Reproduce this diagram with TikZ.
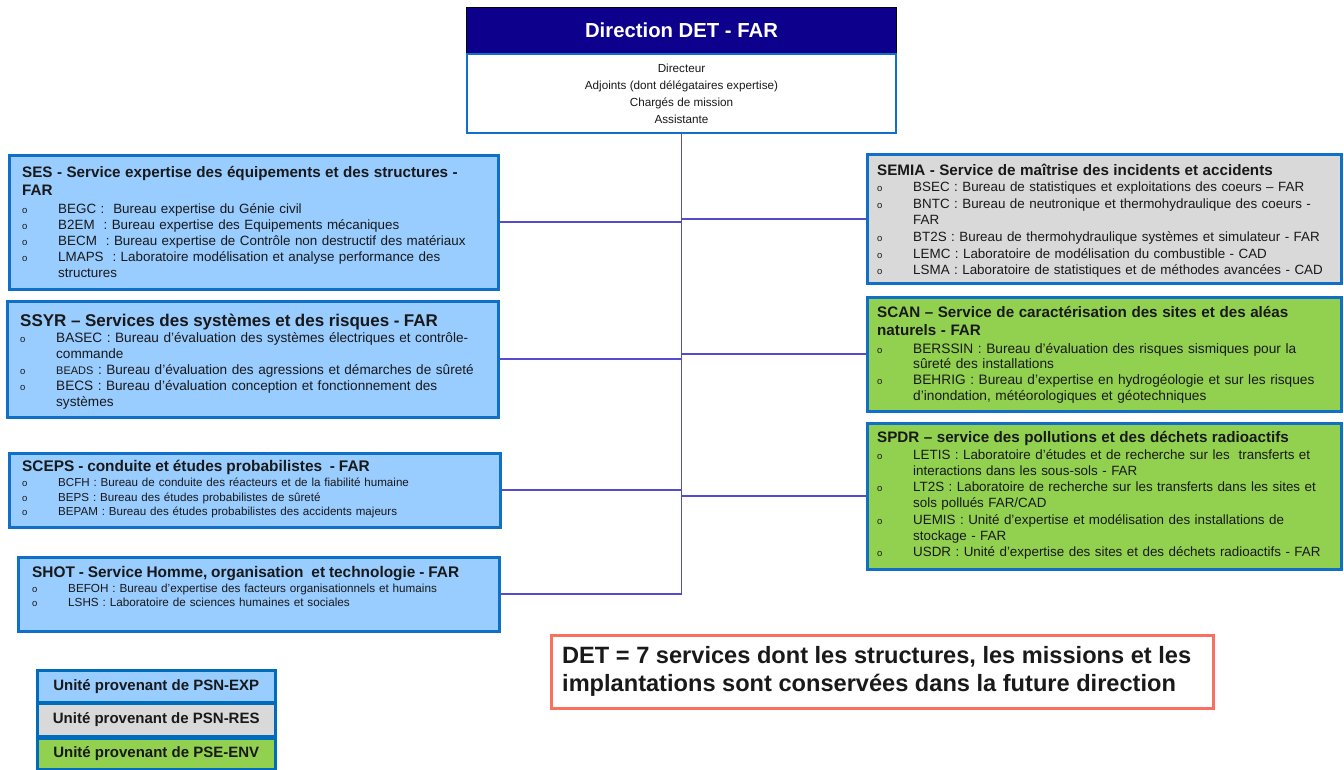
\documentclass[tikz,border=0pt]{standalone}
\usepackage{fontspec}
\setmainfont{Liberation Sans}
\usetikzlibrary{calc}

\definecolor{hdr}{RGB}{12,0,140}
\definecolor{bfill}{RGB}{153,204,255}
\definecolor{gfill}{RGB}{217,217,217}
\definecolor{vfill}{RGB}{146,208,80}
\definecolor{bord}{RGB}{16,112,200}
\definecolor{legbord}{RGB}{0,108,190}
\definecolor{connc}{RGB}{85,75,205}
\definecolor{salmon}{RGB}{250,112,96}
\definecolor{txtc}{RGB}{25,25,25}

\newcommand\bul[1]{\par\noindent\makebox[36pt][l]{\fontsize{9.5}{9.5}\selectfont o}#1}
\newcommand\cont[1]{\par\noindent\hspace*{36pt}#1}

\tikzset{
  svcbox/.style={draw=bord, line width=2.5pt, anchor=north west, inner sep=0pt},
  svctext/.style={anchor=base west, inner sep=0pt, text=txtc, text width=500pt},
  connline/.style={draw=connc, line width=1.8pt},
  legbox/.style={draw=legbord, line width=2.5pt, minimum width=238pt, inner sep=0pt,
    font=\fontsize{15}{17}\selectfont\bfseries, text=txtc},
}

\begin{document}
\begin{tikzpicture}[x=1pt,y=-1pt]
\useasboundingbox (0,0) rectangle (1344,769);

% Direction
\node[fill=hdr, draw=black, line width=1pt, minimum width=430pt, minimum height=46pt,
  anchor=north west, inner sep=0pt, text=white, font=\fontsize{20.3}{24}\selectfont\bfseries]
  (dirh) at (466,7) {Direction DET - FAR};
\node[draw=bord, line width=2pt, fill=white, minimum width=429pt, minimum height=79pt,
  anchor=north west, inner sep=0pt, align=center, text=txtc, font=\fontsize{11.7}{17}\selectfont]
  (dirb) at (466,53) {Directeur\\Adjoints (dont délégataires expertise)\\Chargés de mission\\Assistante};

% Left boxes
\node[svcbox, fill=bfill, minimum width=489pt, minimum height=134pt] (ses) at (8,154) {};
\node[svctext, font=\fontsize{13.4}{16}\selectfont] (sest) at (22,177) {%
{\fontsize{15.2}{18}\selectfont\bfseries SES - Service expertise des équipements et des structures -\newline FAR\par}\vspace{2pt}%
\bul{BEGC :~~Bureau expertise du Génie civil}%
\bul{B2EM~ : Bureau expertise des Equipements mécaniques}%
\bul{BECM~ : Bureau expertise de Contrôle non destructif des matériaux}%
\bul{LMAPS~ : Laboratoire modélisation et analyse performance des}%
\cont{structures}};

\node[svcbox, fill=bfill, minimum width=491pt, minimum height=116pt] (ssyr) at (6,300) {};
\node[svctext, font=\fontsize{13.6}{16}\selectfont] (ssyrt) at (20,326) {%
{\fontsize{17}{20}\selectfont\bfseries SSYR – Services des systèmes et des risques - FAR\par}%
\bul{BASEC : Bureau d’évaluation des systèmes électriques et contrôle-}%
\cont{commande}%
\bul{{\fontsize{11}{11}\selectfont BEADS} : Bureau d’évaluation des agressions et démarches de sûreté}%
\bul{BECS : Bureau d’évaluation conception et fonctionnement des}%
\cont{systèmes}};

\node[svcbox, fill=bfill, minimum width=491pt, minimum height=74pt] (sceps) at (8,452) {};
\node[svctext, font=\fontsize{11.6}{14.5}\selectfont] (scepst) at (22,471) {%
{\fontsize{15.4}{18}\selectfont\bfseries SCEPS - conduite et études probabilistes~~- FAR\par}\vspace{1pt}%
\bul{BCFH : Bureau de conduite des réacteurs et de la fiabilité humaine}%
\bul{BEPS : Bureau des études probabilistes de sûreté}%
\bul{BEPAM : Bureau des études probabilistes des accidents majeurs}};

\node[svcbox, fill=bfill, minimum width=481pt, minimum height=74pt] (shot) at (17,556) {};
\node[svctext, font=\fontsize{11.7}{14}\selectfont] (shott) at (32,577) {%
{\fontsize{15.4}{18}\selectfont\bfseries SHOT - Service Homme, organisation~~et technologie - FAR\par}\vspace{1.5pt}%
\bul{BEFOH : Bureau d’expertise des facteurs organisationnels et humains}%
\bul{LSHS : Laboratoire de sciences humaines et sociales}};

% Right boxes
\node[svcbox, fill=gfill, minimum width=474pt, minimum height=129pt] (semia) at (866,153) {};
\node[svctext, font=\fontsize{13.4}{16.6}\selectfont] (semiat) at (877,175) {%
{\fontsize{15.2}{18}\selectfont\bfseries SEMIA - Service de maîtrise des incidents et accidents\par}%
\bul{BSEC : Bureau de statistiques et exploitations des coeurs – FAR}%
\bul{BNTC : Bureau de neutronique et thermohydraulique des coeurs -}%
\cont{FAR}%
\bul{BT2S : Bureau de thermohydraulique systèmes et simulateur - FAR}%
\bul{LEMC : Laboratoire de modélisation du combustible - CAD}%
\bul{LSMA : Laboratoire de statistiques et de méthodes avancées - CAD}};

\node[svcbox, fill=vfill, minimum width=474pt, minimum height=114pt] (scan) at (866,296) {};
\node[svctext, font=\fontsize{13.7}{15.7}\selectfont] (scant) at (877,317) {%
{\fontsize{15.2}{18}\selectfont\bfseries SCAN – Service de caractérisation des sites et des aléas\newline naturels - FAR\par}\vspace{2.3pt}%
\bul{BERSSIN : Bureau d’évaluation des risques sismiques pour la}%
\cont{sûreté des installations}%
\bul{BEHRIG : Bureau d’expertise en hydrogéologie et sur les risques}%
\cont{d’inondation, météorologiques et géotechniques}};

\node[svcbox, fill=vfill, minimum width=474pt, minimum height=146pt] (spdr) at (866,422) {};
\node[svctext, font=\fontsize{13.4}{16.3}\selectfont] (spdrt) at (877,442) {%
{\fontsize{15.2}{18}\selectfont\bfseries SPDR – service des pollutions et des déchets radioactifs\par}\vspace{0.7pt}%
\bul{LETIS : Laboratoire d’études et de recherche sur les~~transferts et}%
\cont{interactions dans les sous-sols - FAR}%
\bul{LT2S : Laboratoire de recherche sur les transferts dans les sites et}%
\cont{sols pollués FAR/CAD}%
\bul{UEMIS : Unité d’expertise et modélisation des installations de}%
\cont{stockage - FAR}%
\bul{USDR : Unité d’expertise des sites et des déchets radioactifs - FAR}};

% Connectors
\coordinate (trunkend) at (dirb.south |- shot.east);
\draw[connline] (dirb.south) -- (trunkend);
\draw[connline] (ses.east) -- (ses.east -| dirb.south);
\draw[connline] (ssyr.east) -- (ssyr.east -| dirb.south);
\draw[connline] (sceps.east) -- (sceps.east -| dirb.south);
\draw[connline] (shot.east) -- (trunkend);
\draw[connline] (semia.west) -- (semia.west -| dirb.south);
\draw[connline] (scan.west) -- (scan.west -| dirb.south);
\draw[connline] (spdr.west) -- (spdr.west -| dirb.south);

% Note
\node[draw=salmon, line width=3pt, minimum width=662pt, minimum height=73pt, anchor=north west,
  inner sep=0pt] (det) at (550,634) {};
\node[anchor=west, inner sep=0pt, align=left, text=txtc, font=\fontsize{23.6}{28}\selectfont\bfseries]
  (dettxt) at (562,671) {DET = 7 services dont les structures, les missions et les\\implantations sont conservées dans la future direction};

% Legend
\node[legbox, fill=bfill, minimum height=32pt, anchor=north west] (leg1) at (36,669) {Unité provenant de PSN-EXP};
\node[legbox, fill=gfill, minimum height=33pt, anchor=north west] (leg2) at (36,702) {Unité provenant de PSN-RES};
\node[legbox, fill=vfill, minimum height=31pt, anchor=north west] (leg3) at (36,737) {Unité provenant de PSE-ENV};
\end{tikzpicture}
\end{document}
